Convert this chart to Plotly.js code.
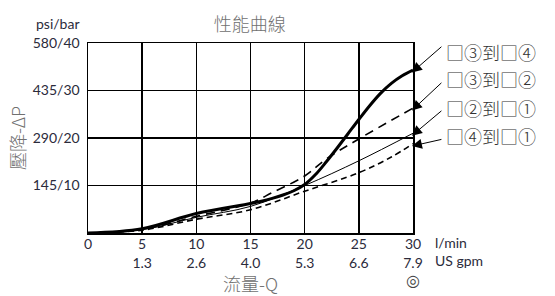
<!DOCTYPE html>
<html>
<head>
<meta charset="utf-8">
<script src="https://cdn.plot.ly/plotly-3.0.1.min.js"></script>
<style>html,body{margin:0;padding:0;background:#fff;}</style>
</head>
<body>
<div id="chart" style="width:555px;height:296px;"></div>
<script>
// Flow (l/min) and pressure drop (bar)
const flow34 = [0, 5, 10, 15, 16, 17, 18, 19, 20, 21, 22, 23, 24, 25, 26, 27, 28, 29, 30];
const dp34   = [0, 0.9, 4.1, 6.2, 6.7, 7.3, 8.0, 8.9, 10.2, 12.3, 15.0, 17.9, 20.9, 23.9, 26.8, 29.4, 31.5, 33.1, 34.3];
const flow32 = [0, 5, 10, 15, 17, 20, 22, 25, 30];
const dp32   = [0, 0.8, 3.5, 6.3, 8.5, 12.0, 15.6, 19.8, 26.3];
const flow21 = [0, 5, 10, 15, 20, 25, 30];
const dp21   = [0, 0.7, 3.3, 5.6, 10.0, 15.2, 21.0];
const flow41 = [0, 5, 10, 15, 20, 25, 28, 30];
const dp41   = [0, 0.6, 2.9, 4.9, 8.8, 12.7, 16.0, 18.8];

const seriesNames = ["□③到□④", "□③到□②", "□②到□①", "□④到□①"];
const xTickVals = [0, 5, 10, 15, 20, 25, 30];
const xTickLpm  = ["0", "5", "10", "15", "20", "25", "30"];
const xTickGpm  = ["", "1.3", "2.6", "4.0", "5.3", "6.6", "7.9"];
const yTickVals = [10, 20, 30, 40];
const yTickText = ["145/10", "290/20", "435/30", "580/40"];

const tickFont = {family: "Lato, 'DejaVu Sans', sans-serif", size: 14, color: "#2b2b3b"};
const cjkFont = "'Noto Sans CJK TC', 'Noto Sans CJK SC', sans-serif";
const titleFont = {family: cjkFont, size: 18, color: "#707070", weight: 300};

const traces = [
  {x: flow34, y: dp34, mode: "lines", line: {color: "#000", width: 3, shape: "spline", smoothing: 1}, name: seriesNames[0]},
  {x: flow32, y: dp32, mode: "lines", line: {color: "#000", width: 1.6, dash: "9px,6px", shape: "spline"}, name: seriesNames[1]},
  {x: flow21, y: dp21, mode: "lines", line: {color: "#000", width: 1, shape: "spline"}, name: seriesNames[2]},
  {x: flow41, y: dp41, mode: "lines", line: {color: "#000", width: 1.6, dash: "6px,4px", shape: "spline"}, name: seriesNames[3]}
];

const ends = [[flow34, dp34], [flow32, dp32], [flow21, dp21], [flow41, dp41]];
const tailOffsets = [-27, -29, -26, -7];
const labelY = [0.955, 0.808, 0.66, 0.51];

const annotations = [];
ends.forEach((s, i) => {
  const n = s[0].length - 1;
  annotations.push({
    x: s[0][n] - 0.1, y: s[1][n] - 0.5, xref: "x", yref: "y",
    text: "", showarrow: true, arrowhead: 2, arrowsize: 2, arrowwidth: 1,
    arrowcolor: "#000", ax: 31, ay: tailOffsets[i]
  });
  annotations.push({
    x: 1.096, y: labelY[i], xref: "paper", yref: "paper", xanchor: "left", yanchor: "middle",
    text: seriesNames[i], showarrow: false,
    font: {family: cjkFont, size: 18, color: "#333", weight: 300}
  });
});
annotations.push({x: 1.06, y: -0.05, xref: "paper", yref: "paper", xanchor: "left", yanchor: "middle",
  text: "l/min", showarrow: false, font: tickFont});
annotations.push({x: 1.06, y: -0.145, xref: "paper", yref: "paper", xanchor: "left", yanchor: "middle",
  text: "US gpm", showarrow: false, font: tickFont});
annotations.push({x: -0.018, y: 1.105, xref: "paper", yref: "paper", xanchor: "right", yanchor: "middle",
  text: "psi/bar", showarrow: false, font: tickFont});
annotations.push({x: 1.0, y: -0.25, xref: "paper", yref: "paper", xanchor: "center", yanchor: "middle",
  text: "◎", showarrow: false, font: {family: "'DejaVu Sans', sans-serif", size: 16, color: "#444"}});

const layout = {
  width: 555, height: 296,
  margin: {l: 88, r: 142, t: 43, b: 63},
  paper_bgcolor: "#fff", plot_bgcolor: "#fff",
  showlegend: false,
  title: {text: "性能曲線", x: 0.45, xanchor: "center", y: 0.915, yanchor: "middle", font: titleFont},
  xaxis: {
    range: [0, 30], tickvals: xTickVals,
    ticktext: xTickVals.map((v, i) => xTickGpm[i] ? xTickLpm[i] + "<br>" + xTickGpm[i] : xTickLpm[i]),
    showgrid: true, gridcolor: "#000", gridwidth: 1.5,
    showline: true, mirror: true, linecolor: "#000", linewidth: 1.5,
    zeroline: false, ticks: "", tickfont: tickFont, ticklabelstandoff: -2,
    title: {text: "流量-Q", standoff: 2, font: titleFont}
  },
  yaxis: {
    range: [0, 40], tickvals: yTickVals, ticktext: yTickText,
    showgrid: true, gridcolor: "#000", gridwidth: 1.5,
    showline: true, mirror: true, linecolor: "#000", linewidth: 1.5,
    zeroline: false, ticks: "", tickfont: tickFont, ticklabelstandoff: 4,
    title: {text: "壓降-ΔP", standoff: 2, font: titleFont}
  },
  annotations: annotations
};

Plotly.newPlot("chart", traces, layout, {staticPlot: true, displayModeBar: false});
</script>
</body>
</html>
